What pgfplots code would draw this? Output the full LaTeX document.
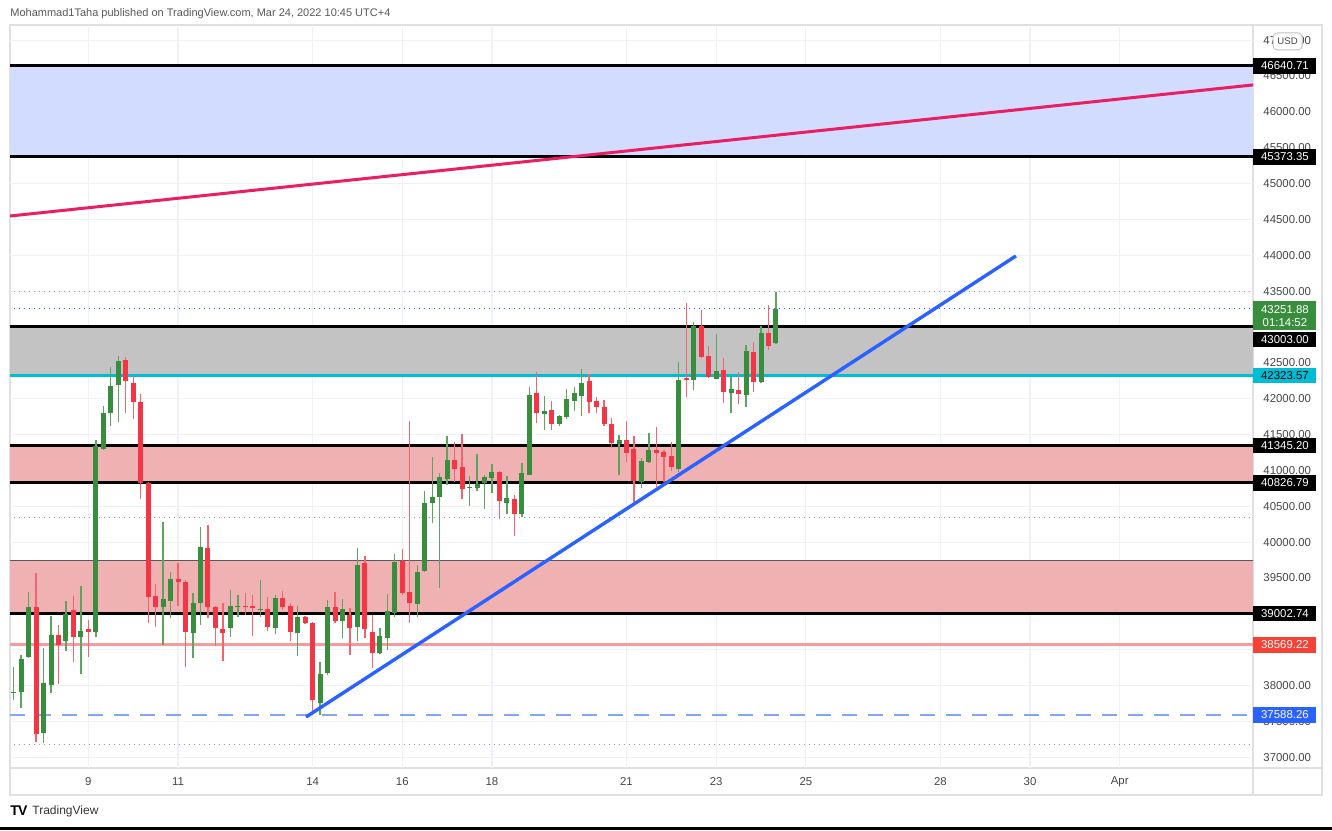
\documentclass[border=0pt]{standalone}
\usepackage{fontspec}
\setmainfont{Liberation Sans}
\usepackage{pgfplots}
\usepackage{pgfplotstable}
\pgfplotsset{compat=1.18}
\definecolor{upc}{RGB}{56,142,60}
\definecolor{upw}{RGB}{95,162,98}
\definecolor{dnc}{RGB}{242,54,69}
\definecolor{dnw}{RGB}{244,100,110}
\definecolor{zblue}{RGB}{209,220,254}
\definecolor{zgray}{RGB}{195,195,195}
\definecolor{zpink}{RGB}{239,177,178}
\definecolor{tlblue}{RGB}{41,98,255}
\definecolor{tlpink}{RGB}{233,30,99}
\definecolor{cyanl}{RGB}{0,188,212}
\definecolor{salmonl}{RGB}{245,155,155}
\definecolor{dashb}{RGB}{130,165,250}
\definecolor{gridc}{RGB}{238,241,248}
\definecolor{framec}{RGB}{222,224,230}
\definecolor{labc}{RGB}{70,70,70}
\definecolor{redbadge}{RGB}{244,67,54}
\definecolor{bluebadge}{RGB}{41,98,255}
\newcommand\ticksize{\fontsize{5.7}{6.8}\selectfont}

% x = day of March 2022 (candle open time, 4h candles), O H L C in USD
\pgfplotstableread{
x O H L C
7.3333 37900 38259 37798 37915
7.5 37914 38426 37683 38366
7.6667 38394 39308 38380 39091
8.0 37334 38520 37194 38031
8.1667 38007 38970 37900 38705
8.5 38625 39183 38486 38998
8.8333 38681 39388 38161 38760
9.1667 38750 41424 38681 41341
9.3333 41295 41899 41285 41797
9.5 41797 42439 41619 42178
9.6667 42191 42600 41679 42530
10.6667 39091 40281 38565 39203
10.8333 39183 39587 38937 39482
11.3333 38737 39286 38379 39147
11.5 39147 40215 38844 39928
12.1667 38798 39332 38673 39114
12.3333 39100 39263 38960 39114
12.8333 39058 39472 38960 39072
13.1667 38798 39263 38714 39217
13.6667 38728 39109 38412 38951
14.1667 37760 38332 37589 38161
14.3333 38171 39193 38147 39091
14.6667 38904 39203 38659 39065
15.0 38812 39914 38625 39681
15.5 38448 38798 38440 38691
15.6667 38659 39277 38496 39040
15.8333 39007 39834 38960 39727
16.3333 39137 39681 38960 39587
16.5 39601 40717 39587 40550
16.6667 40541 41191 40271 40634
16.8333 40624 40968 39356 40904
17.0 40876 41480 40797 41145
17.5 40755 40922 40504 40770
17.6667 40759 41229 40717 40811
17.8333 40820 40936 40458 40904
18.0 40899 41090 40681 40974
18.3333 40550 40922 40392 40611
18.6667 40392 41099 40346 40960
18.8333 40936 42159 40936 42052
19.1667 41792 42038 41564 41829
19.5 41648 41773 41620 41759
19.6667 41741 42131 41713 41992
19.8333 41972 42159 41833 42076
20.0 42038 42410 41759 42224
20.8333 41368 41494 40936 41424
21.3333 40843 41169 40751 41136
21.5 41122 41518 41108 41285
22.1667 41020 42508 40983 42261
22.5 42261 43066 42122 43018
23.0 42275 42899 42275 42391
23.3333 42076 42307 41797 42136
23.6667 42052 42749 41889 42666
24.0 42237 43018 42214 42913
24.3333 42773 43493 42759 43251.88
}\up

\pgfplotstableread{
x O H L C
7.8333 39091 39573 37216 37324
8.3333 38705 38844 38017 38565
8.6667 39053 39249 38332 38673
9.0 38792 38914 38403 38750
9.8333 42540 42578 41797 42251
10.0 42224 42331 41713 41958
10.1667 41950 42062 40597 40828
10.3333 40828 40840 38868 39239
10.5 39249 39416 38812 39091
11.0 39482 39705 39109 39448
11.1667 39440 39472 38254 38750
11.6667 39914 40239 38937 39100
11.8333 39100 39110 38551 38798
12.0 38788 39155 38339 38728
12.5 39114 39295 38979 39095
12.6667 39114 39263 38695 39077
13.0 39065 39239 38765 38821
13.3333 39217 39322 39053 39100
13.5 39114 39147 38625 38750
13.8333 38951 38970 38862 38876
14.0 38868 38880 37635 37798
14.5 39100 39308 38876 38904
14.8333 38984 39077 38426 38798
15.1667 39705 39807 38659 38784
15.3333 38750 38984 38240 38458
16.0 39741 39900 39263 39295
16.1667 39309 41694 38876 39155
17.1667 41145 41392 40843 41015
17.3333 41043 41508 40597 40741
18.1667 40974 40996 40318 40578
18.5 40597 40657 40086 40392
19.0 42084 42373 41666 41797
19.3333 41843 41972 41564 41648
20.1667 42251 42345 41805 41958
20.3333 41972 42028 41797 41880
20.5 41880 41982 41620 41648
20.6667 41648 41727 41308 41378
21.0 41424 41689 41122 41239
21.1667 41295 41480 40564 40857
21.6667 41285 41601 40773 41239
21.8333 41261 41285 40843 41191
22.0 41205 41401 40992 41052
22.3333 42284 43331 42028 42265
22.6667 43018 43238 42572 42586
22.8333 42600 42735 42284 42307
23.1667 42401 42564 41936 42090
23.5 42122 42369 41922 42062
23.8333 42656 42787 42090 42237
24.1667 42913 43307 42680 42740
}\down

\begin{document}
\begin{tikzpicture}[x=1pt,y=1pt]
\useasboundingbox (0,0) rectangle (666,415);
\fill[white] (0,0) rectangle (666,415);
% header
\node[anchor=west, inner sep=0pt, text=black!65, font=\fontsize{5.5}{6.5}\selectfont] at (5,408.3)
  {Mohammad1Taha published on TradingView.com, Mar 24, 2022 10:45 UTC+4};
% frame
\draw[framec, line width=0.6pt] (5,402.5) rectangle (661,17.5);
\draw[framec, line width=0.6pt] (626.5,402.5) -- (626.5,17.5);
\draw[framec, line width=0.6pt] (5,31) -- (661,31);

\begin{axis}[
  at={(5pt,31pt)}, anchor=south west,
  scale only axis, width=621.5pt, height=370.5pt,
  xmin=7.2516, xmax=34.972, ymin=36850, ymax=47184,
  axis line style={draw=none},
  major tick length=0pt,
  xtick={9,11,14,16,18,21,23,25,28,30,32},
  xticklabels={9,11,14,16,18,21,23,25,28,30,Apr},
  ytick={37000,37500,...,47000},
  yticklabel pos=right,
  scaled y ticks=false,
  grid=major,
  grid style={draw=gridc, line width=0.6pt},
  tick label style={font=\ticksize, text=labc, inner sep=0pt},
  xticklabel style={anchor=center, yshift=-7pt},
  yticklabel style={anchor=west, xshift=5pt},
  /pgf/number format/fixed,
  /pgf/number format/fixed zerofill,
  /pgf/number format/precision=2,
  /pgf/number format/1000 sep={},
  /pgf/number format/assume math mode=true,
  clip=true,
]
% zones
\addplot[draw=none, fill=zblue] coordinates {(7,45373.35) (35.5,45373.35) (35.5,46640.71) (7,46640.71)} -- cycle;
\addplot[draw=black!60, line width=0.5pt, fill=zgray] coordinates {(7,42323.57) (35.5,42323.57) (35.5,43003) (7,43003)} -- cycle;
\addplot[draw=none, fill=zpink] coordinates {(7,40826.79) (35.5,40826.79) (35.5,41345.20) (7,41345.20)} -- cycle;
\addplot[draw=black!65, line width=0.5pt, fill=zpink] coordinates {(7,39002.74) (35.5,39002.74) (35.5,39740) (7,39740)} -- cycle;
% dotted price lines
\addplot[black!40, line width=0.5pt, dotted] coordinates {(7,43493) (35.5,43493)};
\addplot[black!40, line width=0.5pt, dotted] coordinates {(7,40345) (35.5,40345)};
\addplot[black!40, line width=0.5pt, dotted] coordinates {(7,37171) (35.5,37171)};
\addplot[tlblue, line width=0.5pt, dotted] coordinates {(7,43251.88) (35.5,43251.88)};
% horizontal levels
\addplot[black, line width=1.5pt] coordinates {(7,46640.71) (35.5,46640.71)};
\addplot[black, line width=1.5pt] coordinates {(7,45373.35) (35.5,45373.35)};
\addplot[black, line width=1.5pt] coordinates {(7,43003) (35.5,43003)};
\addplot[cyanl, line width=1.1pt] coordinates {(7,42323.57) (35.5,42323.57)};
\addplot[black, line width=1.5pt] coordinates {(7,41345.20) (35.5,41345.20)};
\addplot[black, line width=1.5pt] coordinates {(7,40826.79) (35.5,40826.79)};
\addplot[black, line width=1.5pt] coordinates {(7,39002.74) (35.5,39002.74)};
\addplot[salmonl, line width=1.3pt] coordinates {(7,38569.22) (35.5,38569.22)};
\addplot[dashb, line width=1.3pt, dash pattern=on 7.5pt off 5.5pt] coordinates {(7.26,37588.26) (35.5,37588.26)};
% candles
\addplot[upw, line width=0.65pt, quiver={u=0, v=\thisrow{H}-\thisrow{L}}] table[x=x, y=L] {\up};
\addplot[dnw, line width=0.65pt, quiver={u=0, v=\thisrow{H}-\thisrow{L}}] table[x=x, y=L] {\down};
\addplot[upc, line width=2.5pt, quiver={u=0, v=\thisrow{C}-\thisrow{O}}] table[x=x, y=O] {\up};
\addplot[dnc, line width=2.5pt, quiver={u=0, v=\thisrow{C}-\thisrow{O}}] table[x=x, y=O] {\down};
% trend lines
\addplot[tlpink, line width=1.5pt] coordinates {(7.2516,44548) (34.972,46376)};
\addplot[tlblue, line width=1.7pt] coordinates {(13.853,37561) (29.685,43991)};
% badge anchors
\coordinate (b1) at (axis cs:34.972,46640.71);
\coordinate (b2) at (axis cs:34.972,45373.35);
\coordinate (b3) at (axis cs:34.972,43251.88);
\coordinate (b4) at (axis cs:34.972,43003);
\coordinate (b5) at (axis cs:34.972,42323.57);
\coordinate (b6) at (axis cs:34.972,41345.20);
\coordinate (b7) at (axis cs:34.972,40826.79);
\coordinate (b8) at (axis cs:34.972,39002.74);
\coordinate (b9) at (axis cs:34.972,38569.22);
\coordinate (b10) at (axis cs:34.972,37588.26);
\end{axis}

\tikzset{badge/.style={anchor=west, inner sep=0pt, minimum width=31.5pt, minimum height=7.8pt, text=white, font=\ticksize}}
\node[badge, fill=black] at (b1) {46640.71};
\node[badge, fill=black] at (b2) {45373.35};
\node[badge, fill=black, yshift=-6.3pt] at (b4) {43003.00};
\node[badge, fill=upc, anchor=north west, minimum height=14.5pt, align=center, yshift=4pt,
      font=\fontsize{5.7}{6.7}\selectfont] at (b3) {43251.88\\01:14:52};
\node[badge, fill=cyanl, text=black] at (b5) {42323.57};
\node[badge, fill=black] at (b6) {41345.20};
\node[badge, fill=black] at (b7) {40826.79};
\node[badge, fill=black] at (b8) {39002.74};
\node[badge, fill=redbadge] at (b9) {38569.22};
\node[badge, fill=bluebadge] at (b10) {37588.26};
% USD box
\node[draw=black!25, fill=white, rounded corners=2pt, minimum width=14.5pt, minimum height=8.5pt,
      inner sep=0pt, text=labc, font=\fontsize{4.8}{5}\selectfont] at (643.8,394.3) {USD};
% logo
\node[anchor=west, inner sep=0pt, font=\fontsize{7}{8}\selectfont\bfseries] at (5,9.5) {T\kern-0.4pt V};
\node[anchor=west, inner sep=0pt, text=black!80, font=\fontsize{6}{7}\selectfont] at (16,9.5) {TradingView};
\fill[black] (0,0) rectangle (666,1.3);
\end{tikzpicture}
\end{document}
